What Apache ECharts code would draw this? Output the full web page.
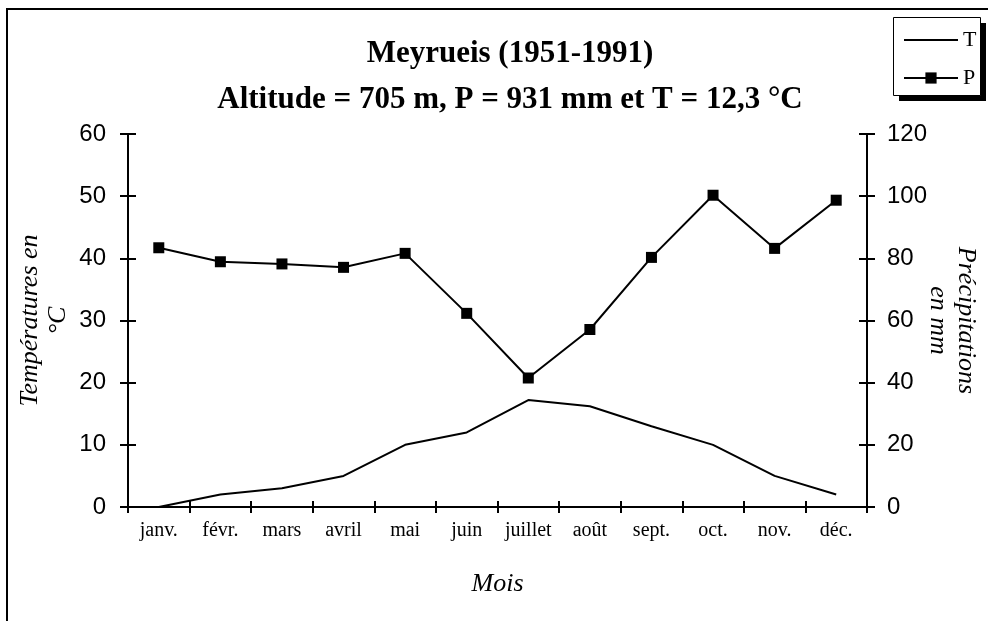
<!DOCTYPE html>
<html>
<head>
<meta charset="utf-8">
<script src="https://cdn.jsdelivr.net/npm/echarts@6/dist/echarts.min.js"></script>
<style>
  html, body { margin: 0; padding: 0; background: #fff; }
  #chart { width: 988px; height: 621px; }
</style>
</head>
<body>
<div id="chart"></div>
<script>
// data
const months = ['janv.', 'févr.', 'mars', 'avril', 'mai', 'juin', 'juillet', 'août', 'sept.', 'oct.', 'nov.', 'déc.'];
const temperature = [0, 2, 3, 5, 10, 12, 17.2, 16.2, 13, 10, 5, 2];
const precipitation = [83.4, 78.9, 78.2, 77.1, 81.6, 62.3, 41.5, 57.1, 80.3, 100.3, 83.2, 98.7];

const serif = 'Liberation Serif';
const sans = 'Liberation Sans';
const black = '#000';

const chart = echarts.init(document.getElementById('chart'));

const axisLine = { show: true, lineStyle: { color: black, width: 2 } };
const noLabel = { show: false };

// labelled axes get outside ticks, twin axes draw the inside half of the tick
const yLeft = {
  type: 'value', position: 'left', min: 0, max: 60, interval: 10,
  axisLine: axisLine,
  axisTick: { show: true, length: 8, lineStyle: { color: black, width: 2 } },
  axisLabel: { color: black, fontFamily: sans, fontSize: 24, margin: 22 },
  splitLine: { show: false },
  name: 'Températures en\n°C',
  nameLocation: 'middle',
  nameRotate: 90,
  nameGap: 56,
  nameMoveOverlap: false,
  nameTextStyle: { color: black, fontFamily: serif, fontStyle: 'italic', fontSize: 26, lineHeight: 28 }
};
const yRight = {
  type: 'value', position: 'right', min: 0, max: 120, interval: 20,
  axisLine: axisLine,
  axisTick: { show: true, length: 8, lineStyle: { color: black, width: 2 } },
  axisLabel: { color: black, fontFamily: sans, fontSize: 24, margin: 20 },
  splitLine: { show: false },
  name: 'Précipitations\nen mm',
  nameLocation: 'middle',
  nameRotate: -90,
  nameGap: 57,
  nameMoveOverlap: false,
  nameTextStyle: { color: black, fontFamily: serif, fontStyle: 'italic', fontSize: 26, lineHeight: 28 }
};
const yLeftIn = {
  type: 'value', position: 'left', min: 0, max: 60, interval: 10,
  axisLine: { show: false },
  axisTick: { show: true, inside: true, length: 8, lineStyle: { color: black, width: 2 } },
  axisLabel: noLabel, splitLine: { show: false }
};
const yRightIn = {
  type: 'value', position: 'right', min: 0, max: 120, interval: 20,
  axisLine: { show: false },
  axisTick: { show: true, inside: true, length: 8, lineStyle: { color: black, width: 2 } },
  axisLabel: noLabel, splitLine: { show: false }
};

const option = {
  animation: false,
  backgroundColor: '#fff',
  title: {
    text: 'Meyrueis (1951-1991)\nAltitude = 705 m, P = 931 mm et T = 12,3 °C',
    left: 505,
    top: 26,
    textAlign: 'center',
    textStyle: { color: black, fontFamily: serif, fontWeight: 'bold', fontSize: 31, lineHeight: 46 }
  },
  legend: {
    orient: 'vertical',
    left: 893,
    top: 17,
    padding: [12, 8, 6, 10],
    itemWidth: 54,
    itemHeight: 14,
    itemGap: 16,
    backgroundColor: 'transparent',
    borderWidth: 0,
    textStyle: { color: black, fontFamily: serif, fontSize: 22 },
    data: [
      { name: 'T', itemStyle: { color: 'rgba(0,0,0,0)', borderWidth: 0 } },
      { name: 'P' }
    ]
  },
  grid: { left: 128, right: 121, top: 134, bottom: 114, containLabel: false },
  xAxis: [
    {
      type: 'category', data: months, boundaryGap: true, position: 'bottom',
      axisLine: axisLine,
      axisTick: { show: true, length: 6, lineStyle: { color: black, width: 2 } },
      axisLabel: { color: black, fontFamily: serif, fontSize: 20, margin: 14, interval: 0 },
      name: 'Mois',
      nameLocation: 'middle',
      nameGap: 64,
      nameTextStyle: { color: black, fontFamily: serif, fontStyle: 'italic', fontSize: 26 }
    },
    {
      type: 'category', data: months, boundaryGap: true, position: 'bottom',
      axisLine: { show: false },
      axisTick: { show: true, inside: true, length: 6, lineStyle: { color: black, width: 2 } },
      axisLabel: noLabel
    }
  ],
  yAxis: [yLeft, yRight, yLeftIn, yRightIn],
  graphic: [
    {
      // outer frame of the chart area
      type: 'rect', z: -1, silent: true,
      shape: { x: 7, y: 9, width: 1010, height: 700 },
      style: { fill: 'none', stroke: black, lineWidth: 2 }
    },
    {
      // legend box shadow
      type: 'rect', z: -1, silent: true,
      shape: { x: 899, y: 23, width: 87, height: 78 },
      style: { fill: black }
    },
    {
      // legend box
      type: 'rect', z: -1, silent: true,
      shape: { x: 893.5, y: 17.5, width: 87, height: 78 },
      style: { fill: '#fff', stroke: black, lineWidth: 1 }
    }
  ],
  series: [
    {
      name: 'T', type: 'line', yAxisIndex: 0, data: temperature,
      symbol: 'none',
      lineStyle: { color: black, width: 2 },
      itemStyle: { color: black }
    },
    {
      name: 'P', type: 'line', yAxisIndex: 1, data: precipitation,
      symbol: 'rect', symbolSize: 11,
      lineStyle: { color: black, width: 2 },
      itemStyle: { color: black }
    }
  ]
};

chart.setOption(option);
</script>
</body>
</html>
